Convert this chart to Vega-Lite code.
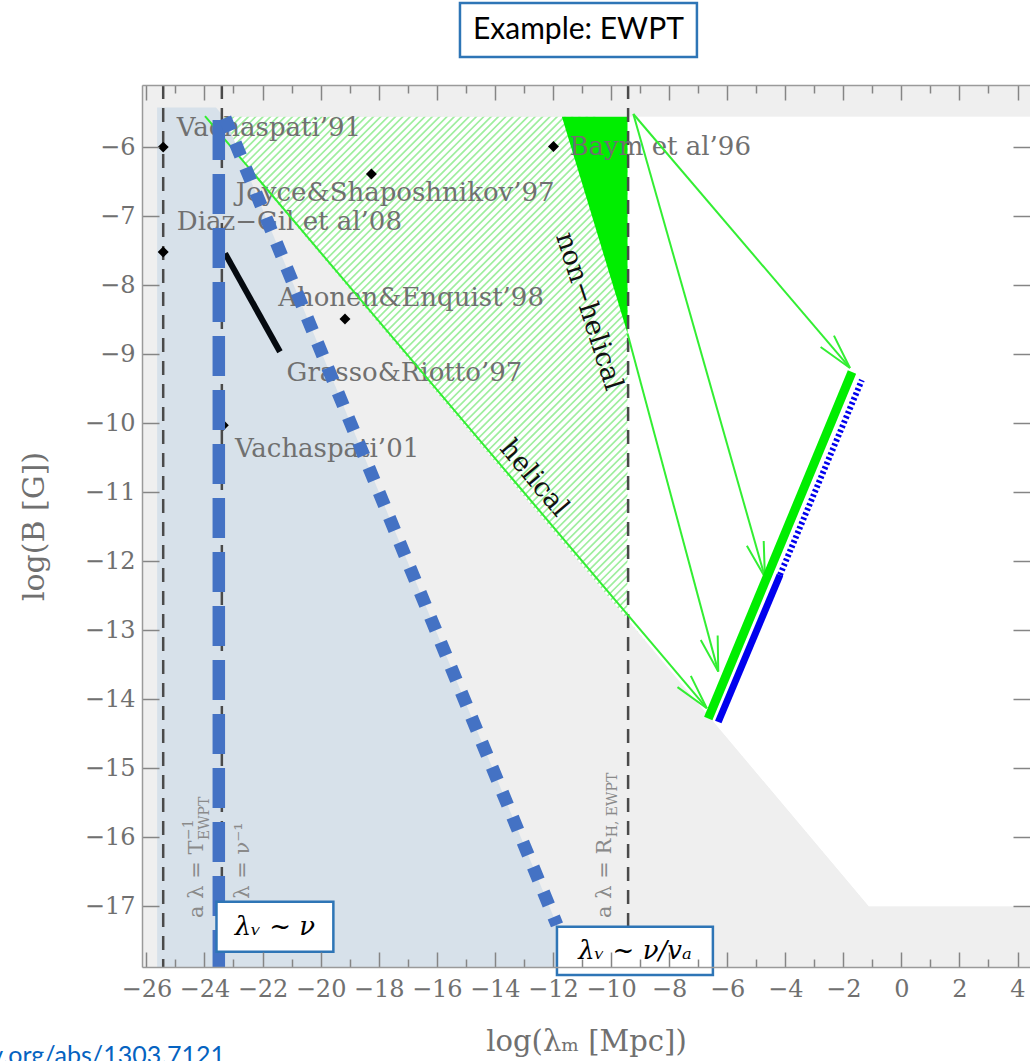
{
  "$schema": "https://vega.github.io/schema/vega-lite/v6.json",
  "width": 888,
  "height": 882,
  "autosize": {"type": "none"},
  "padding": {"left": 142, "top": 85, "right": 0, "bottom": 94},
  "background": "#ffffff",
  "config": {
    "view": {"fill": "#efefef", "stroke": null},
    "axis": {"grid": false}
  },
  "datasets": {
    "whiteRegion": [
      {"x": -24.0, "y": -5.56, "y2": -5.56},
      {"x": -1.12, "y": -5.56, "y2": -17.0},
      {"x": 4.43, "y": -5.56, "y2": -17.0}
    ],
    "hatch": [
      {"x": -22.27, "y": -4.278, "x2": -4.98, "y2": -11.553}
    ],
    "grayBelow": [
      {"x": -26.15, "y": -5.56, "y2": -17.88},
      {"x": -24.0, "y": -5.56, "y2": -17.88},
      {"x": -1.12, "y": -17.0, "y2": -17.88},
      {"x": 4.43, "y": -17.0, "y2": -17.88}
    ],
    "topBand": [
      {"x": -26.15, "x2": 4.43, "y": -5.1, "y2": -5.56}
    ],
    "whiteRight": [
      {"x": -9.43, "y": -5.56, "y2": -12.845},
      {"x": -1.12, "y": -5.56, "y2": -17.0},
      {"x": 4.43, "y": -5.56, "y2": -17.0}
    ],
    "nonHelicalBand": [
      {"x": -11.69, "y": -5.56, "y2": -5.56},
      {"x": -9.43, "y": -5.56, "y2": -8.7}
    ],
    "overlay": [
      {"x": -25.63, "y": -5.426, "y2": -17.88},
      {"x": -23.6, "y": -5.426, "y2": -17.88},
      {"x": -23.29, "y": -5.58, "y2": -17.88},
      {"x": -11.86, "y": -17.27, "y2": -17.88},
      {"x": -11.85, "y": -17.88, "y2": -17.88}
    ],
    "scales": [
      {"x": -25.42, "y": -5.1, "y2": -17.88},
      {"x": -23.4, "y": -5.1, "y2": -17.88},
      {"x": -9.41, "y": -5.1, "y2": -17.88}
    ],
    "refs": [
      {"x": -24.95, "y": -5.727, "label": "Vachaspati’91"},
      {"x": -24.95, "y": -7.08, "label": "Diaz−Gil et al’08"},
      {"x": -22.92, "y": -6.67, "label": "Joyce&Shaposhnikov’97"},
      {"x": -11.43, "y": -5.994, "label": "Baym et al’96"},
      {"x": -21.46, "y": -8.18, "label": "Ahonen&Enquist’98"},
      {"x": -21.17, "y": -9.28, "label": "Grasso&Riotto’97"},
      {"x": -22.95, "y": -10.38, "label": "Vachaspati’01"}
    ],
    "refPoints": [
      {"x": -25.42, "y": -6.0},
      {"x": -25.42, "y": -7.52},
      {"x": -18.25, "y": -6.39},
      {"x": -11.98, "y": -5.99},
      {"x": -19.16, "y": -8.49},
      {"x": -23.35, "y": -10.03}
    ],
    "grassoRiotto": [
      {"x": -23.29, "y": -7.54, "x2": -21.4, "y2": -8.965}
    ],
    "arrows": [
      {"x": -23.98, "y": -5.55, "x2": -6.7, "y2": -14.13},
      {"x": -9.23, "y": -5.52, "x2": -1.77, "y2": -9.2},
      {"x": -9.23, "y": -5.52, "x2": -4.7, "y2": -12.23},
      {"x": -9.43, "y": -8.7, "x2": -6.305, "y2": -13.6}
    ],
    "greenThick": [
      {"x": -6.65, "y": -14.28, "x2": -1.7, "y2": -9.26}
    ],
    "blueThick": [
      {"x": -6.305, "y": -14.33, "x2": -4.18, "y2": -12.2}
    ],
    "blueDotted": [
      {"x": -4.18, "y": -12.2, "x2": -1.36, "y2": -9.375}
    ],
    "helicalText": [
      {"x": -12.65, "y": -10.8, "label": "helical"}
    ],
    "nonHelicalText": [
      {"x": -10.77, "y": -8.38, "label": "non−helical"}
    ],
    "verticalMain": [
      {"x": -24.26, "y": -17.17, "label": "a λ = T"},
      {"x": -22.67, "y": -17.17, "label": "a λ = ν⁻¹"},
      {"x": -10.21, "y": -17.17, "label": "a λ = R"}
    ],
    "verticalSup": [
      {"x": -24.53, "y": -16.04, "label": "−1"}
    ],
    "verticalSub": [
      {"x": -23.98, "y": -16.04, "label": "EWPT"},
      {"x": -9.93, "y": -16.0, "label": "H, EWPT"}
    ],
    "blueDashed": [
      {"x": -23.505, "y": -5.607, "y2": -17.88}
    ],
    "blueDotDiag": [
      {"x": -23.29, "y": -5.578, "x2": -11.86, "y2": -17.27}
    ],
    "boxes": [
      {"x": -15.2, "x2": -7.04, "y": -3.912, "y2": -4.694},
      {"x": -23.585, "x2": -19.56, "y": -16.934, "y2": -17.659},
      {"x": -11.86, "x2": -6.49, "y": -17.297, "y2": -17.997}
    ],
    "caption": [
      {"x": -11.12, "y": -4.303, "label": "Example: EWPT"}
    ],
    "scalings": [
      {"x": -21.57, "y": -17.3, "label": "λᵥ ~ ν"},
      {"x": -9.175, "y": -17.647, "label": "λᵥ ~ ν/vₐ"}
    ],
    "source": [
      {"x": -23.29, "y": -19.28, "label": "http://arxiv.org/abs/1303.7121"}
    ]
  },
  "encoding": {
    "x": {"field": "x", "type": "quantitative", "scale": {"domain": [-26.15, 4.43], "nice": false, "zero": false}, "axis": null},
    "y": {"field": "y", "type": "quantitative", "scale": {"domain": [-17.88, -5.1], "nice": false, "zero": false}, "axis": null}
  },
  "layer": [
    {
      "data": {"name": "whiteRegion"},
      "mark": {"type": "area", "color": "#ffffff", "opacity": 1},
      "encoding": {
        "x": {
          "field": "x", "type": "quantitative",
          "scale": {"domain": [-26.15, 4.43], "nice": false, "zero": false},
          "axis": {
            "orient": "bottom",
            "zindex": 1,
            "values": [-26, -25, -24, -23, -22, -21, -20, -19, -18, -17, -16, -15, -14, -13, -12, -11, -10, -9, -8, -7, -6, -5, -4, -3, -2, -1, 0, 1, 2, 3, 4],
            "labelExpr": "datum.value % 2 === 0 ? datum.label : ''",
            "labelOverlap": false,
            "labelFlush": false,
            "domain": true, "domainColor": "#9a9a9a", "domainWidth": 1.5,
            "tickColor": "#858585", "tickWidth": 1.5,
            "tickSize": {"condition": {"test": "datum.value % 2 === 0", "value": -15}, "value": -8},
            "labelPadding": 25,
            "labelFont": "DejaVu Serif", "labelFontSize": 24, "labelColor": "#707070",
            "title": "log(λₘ [Mpc])",
            "titleFont": "DejaVu Serif", "titleFontSize": 29, "titleFontWeight": "normal", "titleColor": "#707070",
            "titlePadding": 19
          }
        },
        "y": {
          "field": "y", "type": "quantitative",
          "scale": {"domain": [-17.88, -5.1], "nice": false, "zero": false},
          "axis": {
            "orient": "left",
            "zindex": 1,
            "values": [-17, -16, -15, -14, -13, -12, -11, -10, -9, -8, -7, -6],
            "labelOverlap": false,
            "labelFlush": false,
            "domain": true, "domainColor": "#9a9a9a", "domainWidth": 1.5,
            "tickColor": "#858585", "tickWidth": 1.5, "tickSize": -17,
            "labelPadding": 24,
            "labelFont": "DejaVu Serif", "labelFontSize": 24, "labelColor": "#707070",
            "title": "log(B [G])",
            "titleFont": "DejaVu Serif", "titleFontSize": 30, "titleFontWeight": "normal", "titleColor": "#707070",
            "titlePadding": 35
          }
        },
        "y2": {"field": "y2"}
      }
    },
    {
      "data": {"name": "hatch"},
      "mark": {"type": "rule", "color": "#9fee9f", "strokeWidth": 360, "strokeDash": [1.7, 3.5], "strokeCap": "butt", "clip": true},
      "encoding": {"x2": {"field": "x2"}, "y2": {"field": "y2"}}
    },
    {
      "data": {"name": "grayBelow"},
      "mark": {"type": "area", "color": "#efefef", "opacity": 1},
      "encoding": {"y2": {"field": "y2"}}
    },
    {
      "data": {"name": "topBand"},
      "mark": {"type": "rect", "color": "#efefef", "opacity": 1},
      "encoding": {
        "x": {
          "field": "x", "type": "quantitative",
          "scale": {"domain": [-26.15, 4.43], "nice": false, "zero": false},
          "axis": {
            "orient": "top",
            "zindex": 1,
            "values": [-26, -25, -24, -23, -22, -21, -20, -19, -18, -17, -16, -15, -14, -13, -12, -11, -10, -9, -8, -7, -6, -5, -4, -3, -2, -1, 0, 1, 2, 3, 4],
            "labels": false,
            "title": null,
            "domain": true, "domainColor": "#9a9a9a", "domainWidth": 1.5,
            "tickColor": "#858585", "tickWidth": 1.5,
            "tickSize": {"condition": {"test": "datum.value % 2 === 0", "value": -15}, "value": -8}
          }
        },
        "y": {
          "field": "y", "type": "quantitative",
          "scale": {"domain": [-17.88, -5.1], "nice": false, "zero": false},
          "axis": {
            "orient": "right",
            "zindex": 1,
            "values": [-17, -16, -15, -14, -13, -12, -11, -10, -9, -8, -7, -6],
            "labels": false,
            "title": null,
            "domain": false,
            "tickColor": "#858585", "tickWidth": 1.5, "tickSize": -17
          }
        },
        "x2": {"field": "x2"},
        "y2": {"field": "y2"}
      }
    },
    {
      "data": {"name": "whiteRight"},
      "mark": {"type": "area", "color": "#ffffff", "opacity": 1},
      "encoding": {"y2": {"field": "y2"}}
    },
    {
      "data": {"name": "nonHelicalBand"},
      "mark": {"type": "area", "color": "#00ee00", "opacity": 1},
      "encoding": {"y2": {"field": "y2"}}
    },
    {
      "data": {"name": "overlay"},
      "mark": {"type": "area", "color": "#d7e1ea", "opacity": 1},
      "encoding": {"y2": {"field": "y2"}}
    },
    {
      "data": {"name": "scales"},
      "mark": {"type": "rule", "color": "#4a4a4a", "strokeWidth": 2.5, "strokeDash": [14, 9]},
      "encoding": {"y2": {"field": "y2"}}
    },
    {
      "data": {"name": "refs"},
      "mark": {"type": "text", "align": "left", "baseline": "middle", "font": "DejaVu Serif", "fontSize": 26, "color": "#707070"},
      "encoding": {"text": {"field": "label"}}
    },
    {
      "data": {"name": "refPoints"},
      "mark": {"type": "point", "shape": "diamond", "filled": true, "size": 120, "color": "#000000", "opacity": 1}
    },
    {
      "data": {"name": "grassoRiotto"},
      "mark": {"type": "rule", "color": "#050a10", "strokeWidth": 6},
      "encoding": {"x2": {"field": "x2"}, "y2": {"field": "y2"}}
    },
    {
      "data": {"name": "arrows"},
      "mark": {"type": "rule", "color": "#33ee33", "strokeWidth": 2},
      "encoding": {"x2": {"field": "x2"}, "y2": {"field": "y2"}}
    },
    {
      "data": {"values": [{"x": -6.7, "y": -14.13}]},
      "mark": {"type": "point", "shape": "M -1 -0.25 L 0 0 L -1 0.25", "filled": false, "size": 4900, "angle": 49.7, "color": "#33ee33", "strokeWidth": 2, "opacity": 1}
    },
    {
      "data": {"values": [{"x": -1.77, "y": -9.2}]},
      "mark": {"type": "point", "shape": "M -1 -0.25 L 0 0 L -1 0.25", "filled": false, "size": 4900, "angle": 49.6, "color": "#33ee33", "strokeWidth": 2, "opacity": 1}
    },
    {
      "data": {"values": [{"x": -4.7, "y": -12.23}]},
      "mark": {"type": "point", "shape": "M -1 -0.25 L 0 0 L -1 0.25", "filled": false, "size": 4900, "angle": 74.1, "color": "#33ee33", "strokeWidth": 2, "opacity": 1}
    },
    {
      "data": {"values": [{"x": -6.305, "y": -13.6}]},
      "mark": {"type": "point", "shape": "M -1 -0.25 L 0 0 L -1 0.25", "filled": false, "size": 4900, "angle": 75.0, "color": "#33ee33", "strokeWidth": 2, "opacity": 1}
    },
    {
      "data": {"name": "greenThick"},
      "mark": {"type": "rule", "color": "#00ee00", "strokeWidth": 9, "strokeCap": "butt"},
      "encoding": {"x2": {"field": "x2"}, "y2": {"field": "y2"}}
    },
    {
      "data": {"name": "blueThick"},
      "mark": {"type": "rule", "color": "#0000ee", "strokeWidth": 7, "strokeCap": "butt"},
      "encoding": {"x2": {"field": "x2"}, "y2": {"field": "y2"}}
    },
    {
      "data": {"name": "blueDotted"},
      "mark": {"type": "rule", "color": "#0000ee", "strokeWidth": 6, "strokeDash": [2.5, 2.5], "strokeCap": "butt"},
      "encoding": {"x2": {"field": "x2"}, "y2": {"field": "y2"}}
    },
    {
      "data": {"name": "helicalText"},
      "mark": {"type": "text", "align": "center", "baseline": "middle", "angle": 50, "font": "DejaVu Serif", "fontSize": 27, "color": "#111111"},
      "encoding": {"text": {"field": "label"}}
    },
    {
      "data": {"name": "nonHelicalText"},
      "mark": {"type": "text", "align": "center", "baseline": "middle", "angle": 72, "font": "DejaVu Serif", "fontSize": 27, "color": "#111111"},
      "encoding": {"text": {"field": "label"}}
    },
    {
      "data": {"name": "verticalMain"},
      "mark": {"type": "text", "align": "left", "baseline": "middle", "angle": 270, "font": "DejaVu Serif", "fontSize": 21, "color": "#8a8a8a"},
      "encoding": {"text": {"field": "label"}}
    },
    {
      "data": {"name": "verticalSup"},
      "mark": {"type": "text", "align": "left", "baseline": "middle", "angle": 270, "font": "DejaVu Serif", "fontSize": 14, "color": "#8a8a8a"},
      "encoding": {"text": {"field": "label"}}
    },
    {
      "data": {"name": "verticalSub"},
      "mark": {"type": "text", "align": "left", "baseline": "middle", "angle": 270, "font": "DejaVu Serif", "fontSize": 14, "color": "#8a8a8a"},
      "encoding": {"text": {"field": "label"}}
    },
    {
      "data": {"name": "blueDashed"},
      "mark": {"type": "rule", "color": "#4472c4", "strokeWidth": 12.5, "strokeDash": [40, 14], "strokeCap": "butt"},
      "encoding": {"y2": {"field": "y2"}}
    },
    {
      "data": {"name": "blueDotDiag"},
      "mark": {"type": "rule", "color": "#4472c4", "strokeWidth": 13, "strokeDash": [14, 13], "strokeCap": "butt"},
      "encoding": {"x2": {"field": "x2"}, "y2": {"field": "y2"}}
    },
    {
      "data": {"name": "boxes"},
      "mark": {"type": "rect", "fill": "#ffffff", "stroke": "#2e75b6", "strokeWidth": 2.5, "opacity": 1},
      "encoding": {"x2": {"field": "x2"}, "y2": {"field": "y2"}}
    },
    {
      "data": {"name": "caption"},
      "mark": {"type": "text", "align": "center", "baseline": "middle", "font": "Lato", "fontSize": 30, "color": "#000000"},
      "encoding": {"text": {"field": "label"}}
    },
    {
      "data": {"name": "scalings"},
      "mark": {"type": "text", "align": "center", "baseline": "middle", "font": "DejaVu Serif", "fontStyle": "italic", "fontSize": 26, "color": "#000000"},
      "encoding": {"text": {"field": "label"}}
    },
    {
      "data": {"name": "source"},
      "mark": {"type": "text", "align": "right", "baseline": "alphabetic", "font": "Lato", "fontSize": 25, "color": "#0563c1"},
      "encoding": {"text": {"field": "label"}}
    }
  ],
  "resolve": {"axis": {"x": "independent", "y": "independent"}}
}
